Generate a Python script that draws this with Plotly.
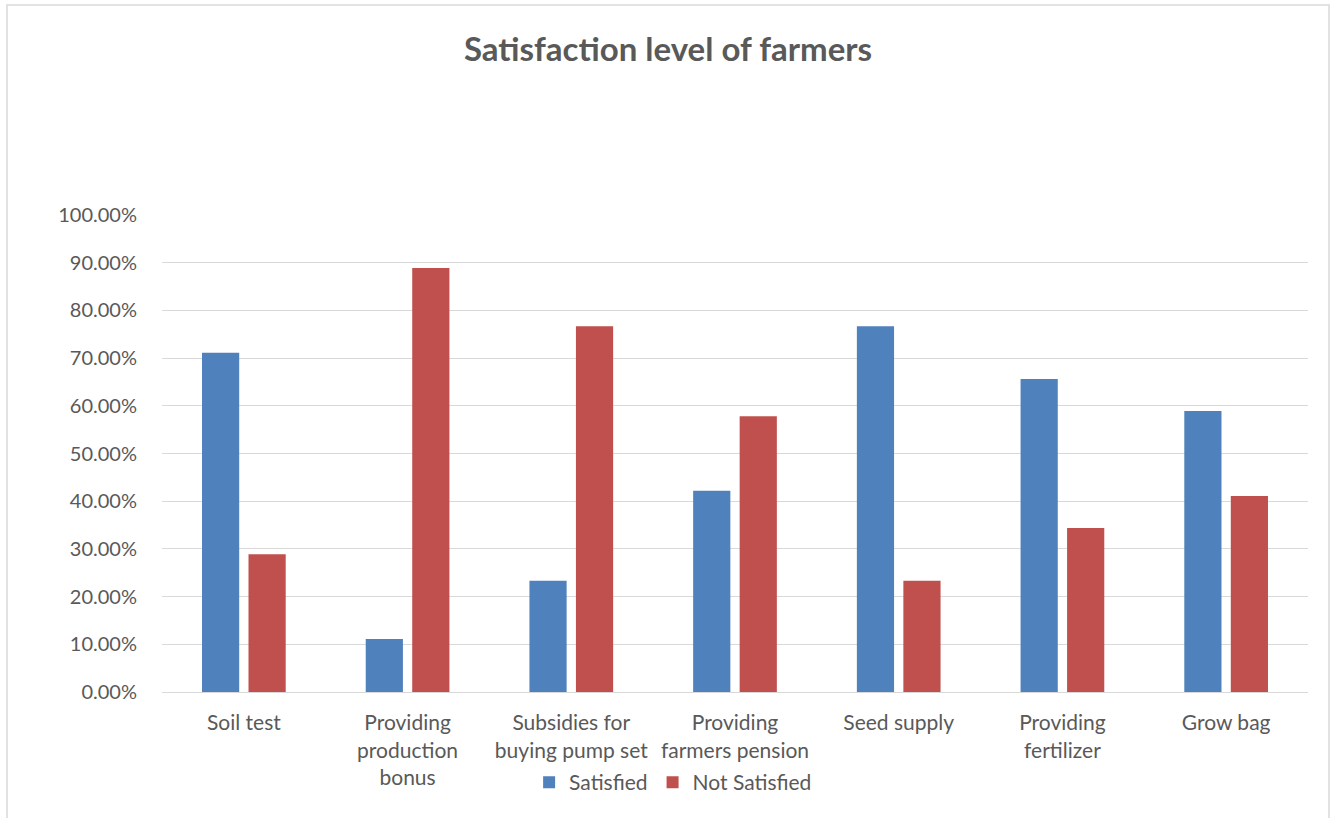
import plotly.graph_objects as go

categories = ["Soil test", "Providing production bonus", "Subsidies for buying pump set",
              "Providing farmers pension", "Seed supply", "Providing fertilizer", "Grow bag"]
tick_labels = ["Soil test", "Providing<br>production<br>bonus", "Subsidies for<br>buying pump set",
               "Providing<br>farmers pension", "Seed supply", "Providing<br>fertilizer", "Grow bag"]
satisfied = [0.711, 0.111, 0.233, 0.422, 0.767, 0.656, 0.589]
not_satisfied = [0.289, 0.889, 0.767, 0.578, 0.233, 0.344, 0.411]
y_ticks = [i / 10 for i in range(11)]

FONT = "Lato, 'Open Sans', sans-serif"
GRAY = "#595959"

fig = go.Figure()
fig.add_trace(go.Bar(x=categories, y=satisfied, name="Satisfied", marker_color="#4F81BD",
                     marker_line_width=0))
fig.add_trace(go.Bar(x=categories, y=not_satisfied, name="Not Satisfied", marker_color="#C0504D",
                     marker_line_width=0))

fig.update_layout(
    width=1335, height=818,
    margin=dict(l=162, r=27, t=215, b=126),
    paper_bgcolor="white", plot_bgcolor="white",
    barmode="group", bargap=0.432, bargroupgap=0.2,
    title=dict(text="<b>Satisfaction level of farmers</b>", x=668 / 1335, xref="container",
               xanchor="center", y=1 - 49 / 818, yref="container", yanchor="middle",
               font=dict(family=FONT, size=33, color=GRAY)),
    font=dict(family=FONT, size=21, color=GRAY),
    showlegend=True,
    legend=dict(orientation="h", x=0.446, xanchor="center", y=-0.19, yanchor="middle",
                font=dict(family=FONT, size=21, color=GRAY), bgcolor="rgba(0,0,0,0)",
                itemwidth=30, traceorder="normal"),
    shapes=[dict(type="rect", xref="paper", yref="paper",
                 x0=(7 - 162) / 1146, x1=(1329 - 162) / 1146,
                 y0=-0.5, y1=(692 - 5) / 477,
                 line=dict(color="#d9d9d9", width=1.5), fillcolor="rgba(0,0,0,0)", layer="below")],
)
fig.update_xaxes(tickvals=categories, ticktext=tick_labels, showgrid=False,
                 showline=True, linecolor="#d9d9d9", linewidth=1.3, ticks="",
                 tickfont=dict(family=FONT, size=21, color=GRAY), ticklabelstandoff=12)
fig.update_yaxes(range=[0, 1], tickvals=y_ticks, tickformat=".2%", showgrid=True,
                 gridcolor="#d9d9d9", gridwidth=1.3, zeroline=False, showline=False, ticks="",
                 tickfont=dict(family=FONT, size=20, color=GRAY), ticklabelstandoff=24)

fig.write_html("out.html")
